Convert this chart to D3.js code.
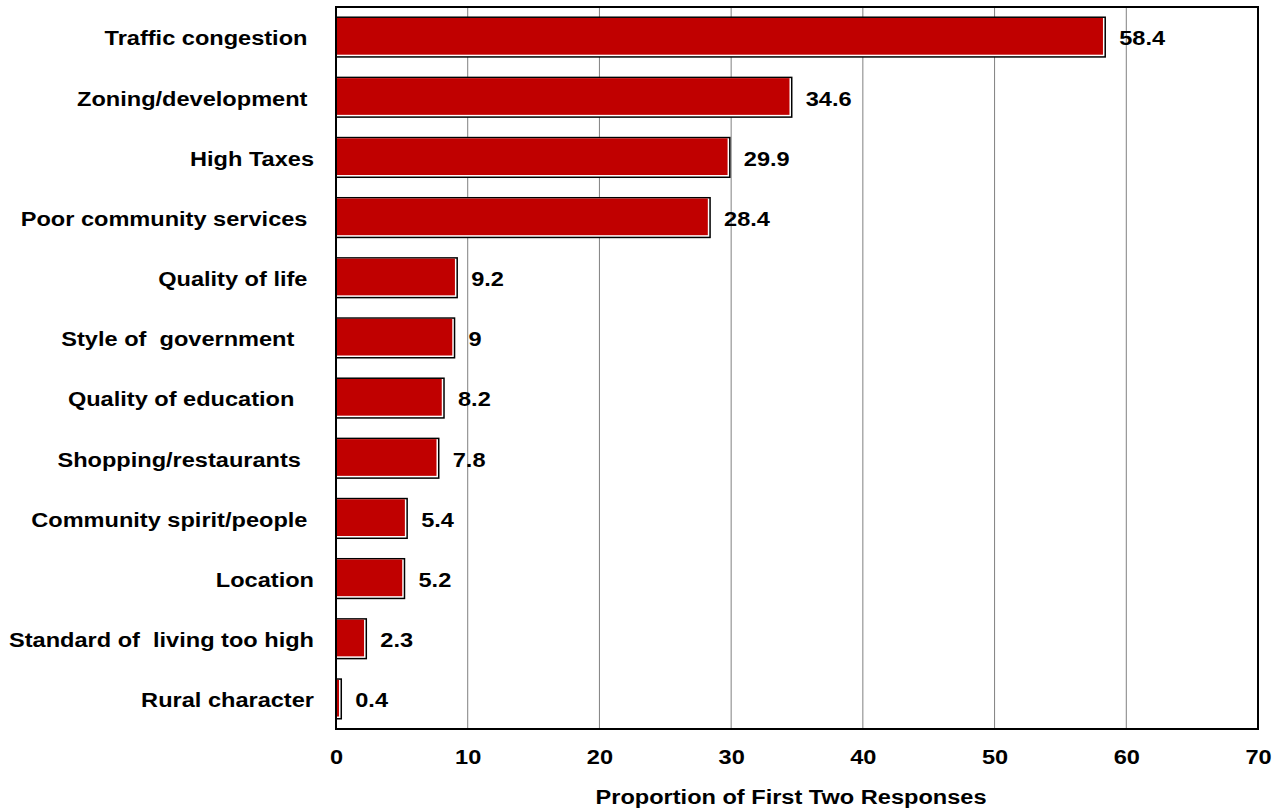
<!DOCTYPE html>
<html>
<head>
<meta charset="utf-8">
<script src="https://cdn.jsdelivr.net/npm/d3@7"></script>
<style>
  body { margin: 0; background: #fff; }
  text { font-family: "Liberation Sans", Arial, sans-serif; font-weight: bold; white-space: pre; fill: #000; }
</style>
</head>
<body>
<div class="chart"></div>
<script>
var categories = ["Traffic congestion ", "Zoning/development ", "High Taxes", "Poor community services ",
  "Quality of life ", "Style of  government   ", "Quality of education   ", "Shopping/restaurants  ",
  "Community spirit/people ", "Location", "Standard of  living too high", "Rural character"];
var values = [58.4, 34.6, 29.9, 28.4, 9.2, 9, 8.2, 7.8, 5.4, 5.2, 2.3, 0.4];
var valueLabels = ["58.4", "34.6", "29.9", "28.4", "9.2", "9", "8.2", "7.8", "5.4", "5.2", "2.3", "0.4"];
var xTicks = [0, 10, 20, 30, 40, 50, 60, 70];
var xTitle = "Proportion of First Two Responses";

var W = 1281, H = 811;
var margin = {top: 7, right: 23, bottom: 82, left: 336},
    width = W - margin.left - margin.right,
    height = H - margin.top - margin.bottom;
var FS = 20.5, SX = 1.15;   // font size and horizontal stretch of the labels

var svg = d3.select(".chart").append("svg")
    .attr("width", W).attr("height", H)
  .append("g")
    .attr("transform", "translate(" + margin.left + "," + margin.top + ")");

var x = d3.scaleLinear().domain([0, 70]).range([0, width]);
var y = d3.scaleBand().domain(categories).range([0, height]).paddingInner(0.34).paddingOuter(0.17);

// stretched text placed at (px, py)
function label(sel, px, py, anchor) {
  sel.attr("transform", function (d, i) {
      return "translate(" + px(d, i) + "," + py(d, i) + ") scale(" + SX + ",1)";
    })
    .attr("dy", "0.36em")
    .attr("text-anchor", anchor)
    .style("font-size", FS + "px");
}

// grid
svg.selectAll(".grid").data(xTicks.slice(1, -1))
  .enter().append("line")
  .attr("x1", function (d) { return x(d); }).attr("x2", function (d) { return x(d); })
  .attr("y1", 0).attr("y2", height)
  .attr("stroke", "#808080").attr("stroke-width", 1);

// bars: black outline, white rim, red fill
var bar = svg.selectAll(".bar").data(values).enter().append("g");
bar.append("rect")
  .attr("x", 0).attr("y", function (d, i) { return y(categories[i]); })
  .attr("width", function (d) { return x(d); })
  .attr("height", y.bandwidth())
  .attr("fill", "#fff").attr("stroke", "#000").attr("stroke-width", 1.5);
bar.append("rect")
  .attr("x", 0.75).attr("y", function (d, i) { return y(categories[i]) + 0.75; })
  .attr("width", function (d) { return Math.max(0, x(d) - 3); })
  .attr("height", y.bandwidth() - 3)
  .attr("fill", "#c00000");

// value labels
svg.selectAll(".val").data(values).enter().append("text")
  .call(label, function (d) { return x(d) + 14; },
               function (d, i) { return y(categories[i]) + y.bandwidth() / 2 + 1; }, "start")
  .text(function (d, i) { return valueLabels[i]; });

// category labels
svg.selectAll(".cat").data(categories).enter().append("text")
  .call(label, function () { return -22; },
               function (d) { return y(d) + y.bandwidth() / 2 + 1; }, "end")
  .text(function (d) { return d; });

// frame
svg.append("rect").attr("width", width).attr("height", height)
  .attr("fill", "none").attr("stroke", "#000").attr("stroke-width", 2);

// x axis
var xAxis = svg.append("g")
  .attr("transform", "translate(0," + height + ")")
  .call(d3.axisBottom(x).tickValues(xTicks).tickSize(0).tickPadding(0));
xAxis.select(".domain").remove();
xAxis.selectAll(".tick text")
  .attr("y", 0)
  .call(label, function () { return 0; }, function () { return 28; }, "middle")
  .style("font-family", null);

svg.append("text")
  .datum(xTitle)
  .call(label, function () { return width / 2 - 6; }, function () { return height + 68; }, "middle")
  .text(xTitle);
</script>
</body>
</html>
